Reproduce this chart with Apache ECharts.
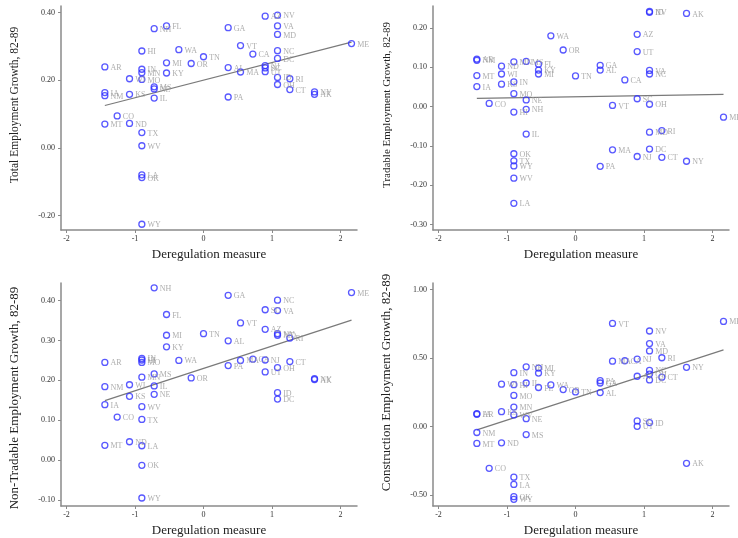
<!DOCTYPE html>
<html>
<head>
<meta charset="utf-8">
<script src="https://cdn.jsdelivr.net/npm/echarts@6/dist/echarts.min.js"></script>
<style>html,body{margin:0;padding:0;background:#fff;}#c{width:738px;height:538px;}</style>
</head>
<body>
<div id="c"></div>
<script>
const states = ["AR","IA","NM","MT","CO","WI","KS","ND","HI","IN","MN","MO","TX","WV","OK","LA","WY","NH","MS","NE","IL","FL","MI","KY","WA","OR","TN","GA","AL","PA","VT","MA","CA","AZ","NJ","SC","UT","NV","VA","MD","NC","DC","ID","OH","RI","CT","NY","AK","ME"];
const dereg = [-1.44,-1.44,-1.44,-1.44,-1.26,-1.08,-1.08,-1.08,-0.9,-0.9,-0.9,-0.9,-0.9,-0.9,-0.9,-0.9,-0.9,-0.72,-0.72,-0.72,-0.72,-0.54,-0.54,-0.54,-0.36,-0.18,0,0.36,0.36,0.36,0.54,0.54,0.72,0.9,0.9,0.9,0.9,1.08,1.08,1.08,1.08,1.08,1.08,1.08,1.26,1.26,1.62,1.62,2.16];
const totalEmp = [0.239,0.163,0.154,0.07,0.094,0.204,0.158,0.072,0.286,0.232,0.222,0.202,0.045,0.006,-0.088,-0.080,-0.226,0.352,0.180,0.174,0.147,0.360,0.251,0.221,0.290,0.249,0.269,0.355,0.237,0.150,0.302,0.224,0.277,0.389,0.243,0.236,0.225,0.392,0.360,0.335,0.287,0.264,0.208,0.187,0.204,0.172,0.165,0.158,0.308];
const tradableEmp = [0.121,0.051,0.118,0.079,0.008,0.083,0.057,0.103,-0.014,0.063,0.114,0.033,-0.138,-0.182,-0.12,-0.246,-0.151,-0.007,0.115,0.017,-0.07,0.108,0.083,0.093,0.18,0.144,0.078,0.105,0.093,-0.152,0.003,-0.11,0.068,0.184,-0.127,0.02,0.14,0.242,0.092,-0.065,0.083,-0.108,0.240,0.006,-0.061,-0.129,-0.139,0.237,-0.027];
const nonTradableEmp = [0.245,0.139,0.184,0.037,0.108,0.189,0.16,0.046,0.251,0.255,0.208,0.245,0.102,0.134,-0.013,0.036,-0.095,0.432,0.216,0.165,0.186,0.365,0.313,0.284,0.25,0.206,0.317,0.413,0.299,0.237,0.344,0.25,0.253,0.328,0.251,0.377,0.221,0.317,0.375,0.313,0.401,0.153,0.169,0.232,0.306,0.247,0.204,0.202,0.42];
const constructionEmp = [0.094,0.09,-0.043,-0.123,-0.304,0.309,0.109,-0.118,0.306,0.393,0.142,0.227,-0.369,0.085,-0.511,-0.422,-0.53,0.436,-0.058,0.058,0.318,0.285,0.427,0.39,0.304,0.27,0.253,0.318,0.248,0.335,0.752,0.477,0.48,0.367,0.492,0.041,0.002,0.697,0.605,0.552,0.41,0.34,0.029,0.383,0.502,0.36,0.432,-0.268,0.767];

const fitX = [-1.44, 2.16];
const fitTotal = [0.125, 0.312];
const fitTradable = [0.021, 0.031];
const fitNonTradable = [0.149, 0.351];
const fitConstruction = [-0.024, 0.559];

const xTicks = [-2, -1, 0, 1, 2];
const yTicksTotal = [-0.2, 0, 0.2, 0.4];
const yTicksTradable = [-0.3, -0.2, -0.1, 0, 0.1, 0.2];
const yTicksNonTradable = [-0.1, 0, 0.1, 0.2, 0.3, 0.4];
const yTicksConstruction = [-0.5, 0, 0.5, 1.0];

const xTitle = "Deregulation measure";
const yTitles = ["Total Employment Growth, 82-89","Tradable Employment Growth, 82-89","Non-Tradable Employment Growth, 82-89","Construction Employment Growth, 82-89"];

const panelValues = [totalEmp, tradableEmp, nonTradableEmp, constructionEmp];
const panelFits = [fitTotal, fitTradable, fitNonTradable, fitConstruction];
const panelTicks = [yTicksTotal, yTicksTradable, yTicksNonTradable, yTicksConstruction];
const panelRanges = [[-0.243, 0.419], [-0.314, 0.256], [-0.115, 0.444], [-0.579, 1.047]];
const gridPos = [[61, 6], [433, 6], [61, 283], [433, 283]];
const yTitleSize = [11.5, 11, 13, 13];
const yTitlePad = [[0, 0, 0, 26], [0, 0, 0, 26], [0, 7, 0, 0], [0, 0, 0, 24]];

const serif = "'Liberation Serif', 'Times New Roman', serif";
const grids = [], xAxes = [], yAxes = [], series = [];
for (let i = 0; i < 4; i++) {
  grids.push({left: gridPos[i][0], top: gridPos[i][1], width: 296, height: 224});
  xAxes.push({
    type: 'value', gridIndex: i, min: -2.08, max: 2.24,
    splitLine: {show: false},
    axisLine: {show: true, onZero: false, lineStyle: {color: '#8a8a8a', width: 1.5}},
    axisTick: {show: true, customValues: xTicks, length: 3, lineStyle: {color: '#8a8a8a'}},
    axisLabel: {customValues: xTicks, fontSize: 8, color: '#333', fontFamily: serif, margin: 5},
    name: xTitle, nameLocation: 'middle', nameGap: 18,
    nameTextStyle: {fontSize: 13, color: '#222', fontFamily: serif}
  });
  yAxes.push({
    type: 'value', gridIndex: i, min: panelRanges[i][0], max: panelRanges[i][1],
    splitLine: {show: false},
    axisLine: {show: true, onZero: false, lineStyle: {color: '#8a8a8a', width: 1.5}},
    axisTick: {show: true, customValues: panelTicks[i], length: 3, lineStyle: {color: '#8a8a8a'}},
    axisLabel: {customValues: panelTicks[i], fontSize: 8, color: '#333', fontFamily: serif, margin: 6,
      formatter: v => v.toFixed(2)},
    name: yTitles[i], nameLocation: 'middle', nameGap: 40,
    nameTextStyle: {fontSize: yTitleSize[i], color: '#222', fontFamily: serif, padding: yTitlePad[i]}
  });
  series.push({
    type: 'scatter', xAxisIndex: i, yAxisIndex: i,
    symbol: 'circle', symbolSize: 6,
    itemStyle: {color: 'rgba(0,0,0,0)', borderColor: '#2f2fff', borderWidth: 1.3},
    label: {show: true, position: 'right', distance: 2, formatter: '{b}', fontSize: 8,
      color: '#999', fontFamily: serif, offset: [0, 1]},
    data: states.map((s, k) => ({name: s, value: [dereg[k], panelValues[i][k]]}))
  });
  series.push({
    type: 'line', xAxisIndex: i, yAxisIndex: i, silent: true,
    symbol: 'none', lineStyle: {color: '#7a7a7a', width: 1.2}, z: 1,
    data: fitX.map((x, k) => [x, panelFits[i][k]])
  });
}

const chart = echarts.init(document.getElementById('c'), null, {renderer: 'canvas'});
chart.setOption({animation: false, backgroundColor: '#fff', grid: grids, xAxis: xAxes, yAxis: yAxes, series: series});
</script>
</body>
</html>
